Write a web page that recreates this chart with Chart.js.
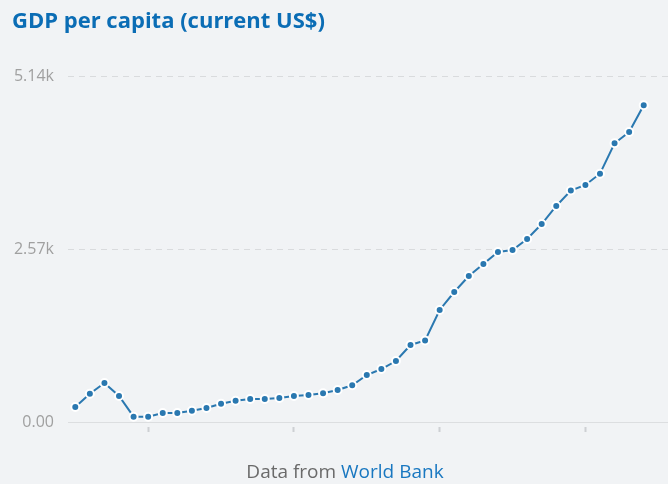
<!DOCTYPE html>
<html>
<head>
<meta charset="utf-8">
<script src="https://cdn.jsdelivr.net/npm/chart.js@4/dist/chart.umd.min.js"></script>
<style>
  html, body { margin: 0; padding: 0; background: #f1f3f5; }
  body { width: 668px; height: 484px; position: relative; overflow: hidden; font-family: "Open Sans", sans-serif; }
  #title { position: absolute; left: 12px; top: 4px; font-size: 22px; font-weight: bold; color: #0b6db5; white-space: nowrap; }
  #footer { position: absolute; left: 0; width: 690px; top: 458px; text-align: center; font-size: 19px; color: #6a6a6a; }
  #footer span { color: #1877c0; }
  #wrap { position: absolute; left: 0; top: 0; width: 668px; height: 484px; }
</style>
</head>
<body>
<div id="wrap"><canvas id="gdpChart"></canvas></div>
<div id="title">GDP per capita (current US$)</div>
<div id="footer">Data from <span>World Bank</span></div>
<script>
// values
const years = [];
for (let y = 1984; y <= 2023; y++) years.push(String(y));
const gdpPerCapita = [
  223, 420, 579, 386, 79, 79, 134, 134, 168, 208,
  272, 316, 342, 342, 357, 386, 401, 426, 475, 545,
  698, 787, 906, 1144, 1211, 1664, 1931, 2169, 2347, 2525,
  2555, 2718, 2941, 3209, 3439, 3521, 3689, 4140, 4308, 4705
];
const yTicks = [0, 2570, 5140];
const yTickLabels = ['0.00', '2.57k', '5.14k'];

// grid lines run past the plot area to the right edge
const wideGrid = {
  id: 'wideGrid',
  beforeDatasetsDraw(chart) {
    const ctx = chart.ctx;
    const yScale = chart.scales.y;
    const left = chart.chartArea.left;
    ctx.save();
    ctx.lineWidth = 1;
    yTicks.forEach((v, i) => {
      const py = Math.round(yScale.getPixelForValue(v)) + 0.5;
      ctx.strokeStyle = i === 0 ? '#dcdee0' : '#d9dbdd';
      ctx.setLineDash(i === 0 ? [] : [6, 5]);
      ctx.beginPath();
      ctx.moveTo(left, py);
      ctx.lineTo(chart.width, py);
      ctx.stroke();
    });
    ctx.restore();
  }
};

const ctx = document.getElementById('gdpChart').getContext('2d');
const gdpChart = new Chart(ctx, {
  type: 'line',
  data: {
    labels: years,
    datasets: [{
      data: gdpPerCapita,
      borderColor: '#2a78b0',
      borderWidth: 2,
      pointRadius: 4,
      pointBackgroundColor: '#2a78b0',
      pointBorderColor: '#ffffff',
      pointBorderWidth: 2,
      tension: 0
    }]
  },
  plugins: [wideGrid],
  options: {
    responsive: true,
    maintainAspectRatio: false,
    animation: false,
    layout: { padding: { top: 76, right: 17, bottom: 52, left: 0 } },
    plugins: { legend: { display: false }, tooltip: { enabled: false } },
    scales: {
      x: {
        offset: true,
        border: { display: false },
        grid: {
          offset: false,
          drawOnChartArea: false,
          drawTicks: true,
          tickLength: 11,
          tickBorderDash: [0, 5, 5, 30],
          tickWidth: 2,
          tickColor: c => (c.index % 10 === 5 ? '#cdd0d3' : 'rgba(0,0,0,0)')
        },
        ticks: { display: false, autoSkip: false },
        afterFit: s => { s.height = 10; }
      },
      y: {
        min: 0,
        max: 5140,
        border: { display: false },
        grid: { display: false, drawTicks: false },
        afterBuildTicks: s => { s.ticks = yTicks.map(v => ({ value: v })); },
        afterFit: s => { s.width = 68; },
        ticks: {
          padding: 14,
          color: '#a0a0a0',
          font: { family: 'Open Sans', size: 16 },
          callback: (v) => yTickLabels[yTicks.indexOf(v)]
        }
      }
    }
  }
});
</script>
</body>
</html>
